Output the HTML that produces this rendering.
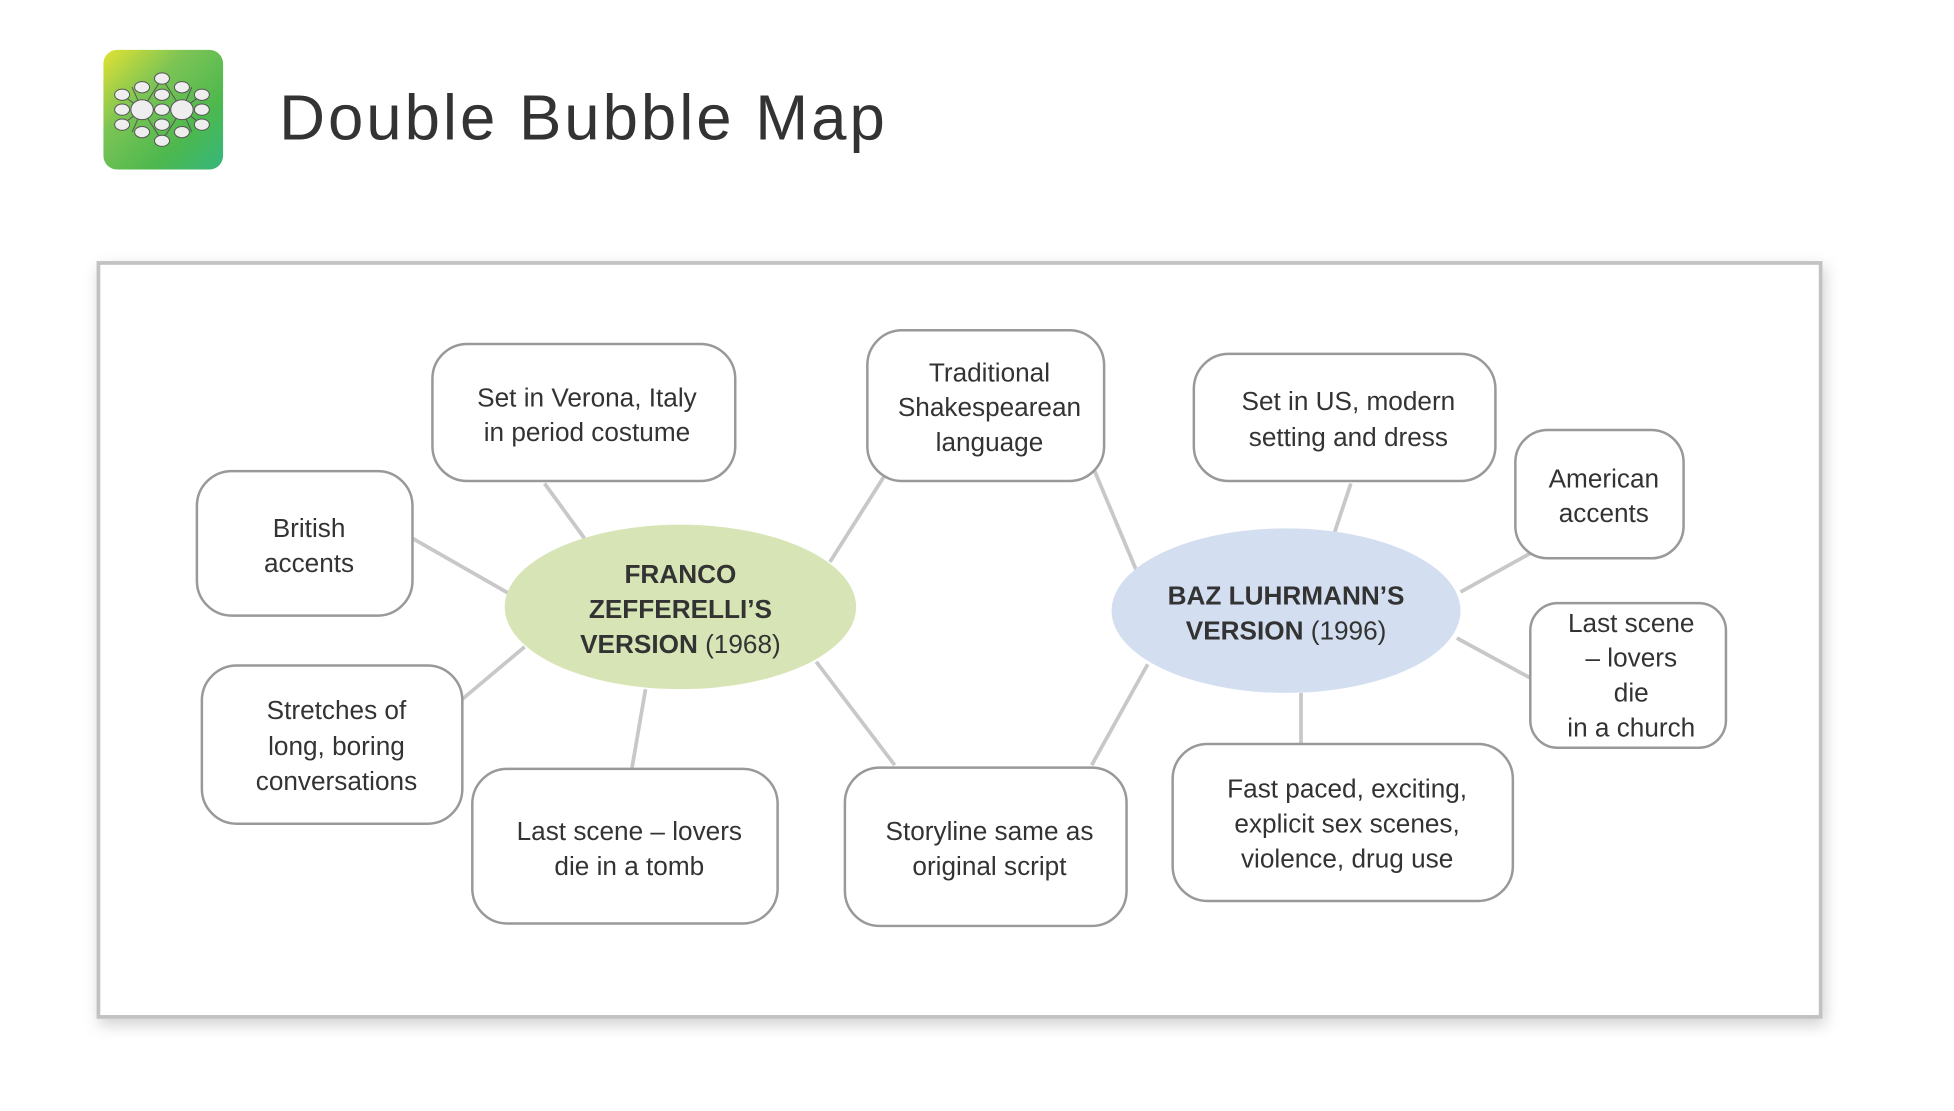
<!DOCTYPE html>
<html><head><meta charset="utf-8"><style>
html,body{margin:0;padding:0;background:#fff;width:1954px;height:1111px;overflow:hidden}
text{font-family:"Liberation Sans",sans-serif;fill:#333}
</style></head><body>
<svg width="1954" height="1111" viewBox="0 0 1568 891.5" preserveAspectRatio="none" xmlns="http://www.w3.org/2000/svg">
<defs>
<linearGradient id="g" x1="0" y1="0" x2="1" y2="1">
<stop offset="0" stop-color="#e2e232"/><stop offset="0.35" stop-color="#7cc455"/><stop offset="0.7" stop-color="#4db84e"/><stop offset="1" stop-color="#35b77c"/>
</linearGradient>
<filter id="sh" x="-5%" y="-5%" width="110%" height="115%"><feDropShadow dx="2" dy="5" stdDeviation="6" flood-color="#000" flood-opacity="0.18"/></filter>
</defs>
<rect x="83" y="40" width="96" height="96" rx="11" fill="url(#g)"/>
<g stroke="#555" stroke-width="0.8" fill="#eee">
<line x1="114" y1="88" x2="146" y2="88"/><line x1="114" y1="88" x2="98" y2="76"/><line x1="114" y1="88" x2="98" y2="100"/><line x1="114" y1="88" x2="106" y2="70"/><line x1="114" y1="88" x2="106" y2="106"/>
<line x1="146" y1="88" x2="162" y2="76"/><line x1="146" y1="88" x2="162" y2="100"/><line x1="146" y1="88" x2="154" y2="70"/><line x1="146" y1="88" x2="154" y2="106"/>
<line x1="114" y1="88" x2="130" y2="63"/><line x1="146" y1="88" x2="130" y2="63"/><line x1="114" y1="88" x2="130" y2="113"/><line x1="146" y1="88" x2="130" y2="113"/>
<ellipse cx="114" cy="88" rx="9" ry="8"/><ellipse cx="146" cy="88" rx="9" ry="8"/>
<ellipse cx="130" cy="63" rx="6" ry="4.5"/><ellipse cx="130" cy="76" rx="6" ry="4.5"/><ellipse cx="130" cy="88" rx="6" ry="4.5"/><ellipse cx="130" cy="100" rx="6" ry="4.5"/><ellipse cx="130" cy="113" rx="6" ry="4.5"/>
<ellipse cx="114" cy="70" rx="6" ry="4.5"/><ellipse cx="146" cy="70" rx="6" ry="4.5"/><ellipse cx="114" cy="106" rx="6" ry="4.5"/><ellipse cx="146" cy="106" rx="6" ry="4.5"/>
<ellipse cx="98" cy="76" rx="6" ry="4.5"/><ellipse cx="98" cy="88" rx="6" ry="4.5"/><ellipse cx="98" cy="100" rx="6" ry="4.5"/>
<ellipse cx="162" cy="76" rx="6" ry="4.5"/><ellipse cx="162" cy="88" rx="6" ry="4.5"/><ellipse cx="162" cy="100" rx="6" ry="4.5"/>
</g>
<text x="224" y="112" font-size="51" textLength="486" lengthAdjust="spacing" style="fill:#333">Double Bubble Map</text>
<rect x="79" y="211" width="1382" height="605" fill="#fff" stroke="#c2c2c2" stroke-width="3" filter="url(#sh)"/>
<g stroke="#c8c8c8" stroke-width="3">
<line x1="437" y1="388" x2="469" y2="432"/><line x1="331" y1="432" x2="408" y2="476"/><line x1="371" y1="561" x2="421" y2="519"/><line x1="518" y1="553" x2="507" y2="617"/>
<line x1="709" y1="383" x2="666" y2="451"/><line x1="655" y1="531" x2="718" y2="614"/><line x1="878" y1="377" x2="912" y2="458"/><line x1="876" y1="614" x2="921" y2="533"/>
<line x1="1084" y1="388" x2="1071" y2="427"/><line x1="1172" y1="475" x2="1228" y2="444"/><line x1="1169" y1="512" x2="1228" y2="544"/><line x1="1044" y1="556" x2="1044" y2="597"/>
</g>
<ellipse cx="546" cy="487" rx="141" ry="66" fill="#d7e5b6"/>
<ellipse cx="1032" cy="490" rx="140" ry="66" fill="#d3dff0"/>
<g fill="#fff" stroke="#999" stroke-width="2">
<rect x="347" y="276" width="243" height="110" rx="28"/>
<rect x="158" y="378" width="173" height="116" rx="28"/>
<rect x="162" y="534" width="209" height="127" rx="28"/>
<rect x="379" y="617" width="245" height="124" rx="28"/>
<rect x="696" y="265" width="190" height="121" rx="28"/>
<rect x="678" y="616" width="226" height="127" rx="28"/>
<rect x="958" y="284" width="242" height="102" rx="28"/>
<rect x="1216" y="345" width="135" height="103" rx="26"/>
<rect x="1228" y="484" width="157" height="116" rx="22"/>
<rect x="941" y="597" width="273" height="126" rx="28"/>
</g>
<g font-size="21" text-anchor="middle">
<text x="546" y="468" font-weight="bold">FRANCO</text>
<text x="546" y="496" font-weight="bold">ZEFFERELLI’S</text>
<text x="546" y="524"><tspan font-weight="bold">VERSION</tspan> (1968)</text>
<text x="1032" y="485" font-weight="bold">BAZ LUHRMANN’S</text>
<text x="1032" y="513"><tspan font-weight="bold">VERSION</tspan> (1996)</text>
<text x="471" y="326">Set in Verona, Italy</text><text x="471" y="354">in period costume</text>
<text x="248" y="431">British</text><text x="248" y="459">accents</text>
<text x="270" y="577">Stretches of</text><text x="270" y="606">long, boring</text><text x="270" y="634">conversations</text>
<text x="505" y="674">Last scene – lovers</text><text x="505" y="702">die in a tomb</text>
<text x="794" y="306">Traditional</text><text x="794" y="334">Shakespearean</text><text x="794" y="362">language</text>
<text x="794" y="674">Storyline same as</text><text x="794" y="702">original script</text>
<text x="1082" y="329">Set in US, modern</text><text x="1082" y="358">setting and dress</text>
<text x="1287" y="391">American</text><text x="1287" y="419">accents</text>
<text x="1309" y="507">Last scene</text><text x="1309" y="535">– lovers</text><text x="1309" y="563">die</text><text x="1309" y="591">in a church</text>
<text x="1081" y="640">Fast paced, exciting,</text><text x="1081" y="668">explicit sex scenes,</text><text x="1081" y="696">violence, drug use</text>
</g>
</svg>
</body></html>
